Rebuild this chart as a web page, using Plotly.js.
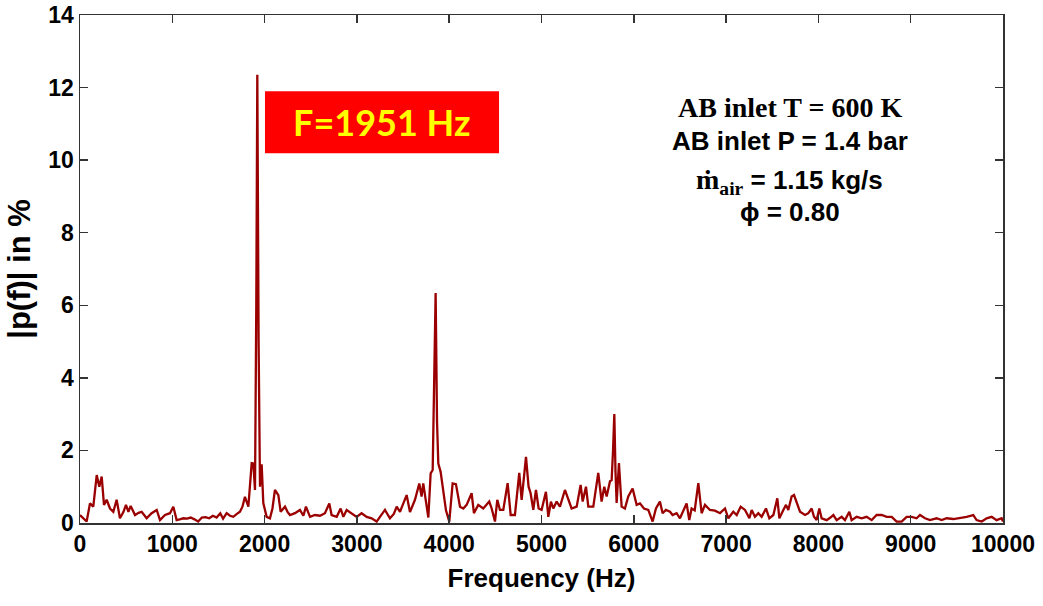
<!DOCTYPE html>
<html>
<head>
<meta charset="utf-8">
<script src="https://cdn.plot.ly/plotly-3.0.1.min.js"></script>
<style>html,body{margin:0;padding:0;background:#fff;}#chart{width:1043px;height:606px;}</style>
</head>
<body>
<div id="chart"></div>
<script>
// Frequency (Hz)
const freq = [0,40,72,108,144,181,209,235,260,289,325,361,397,433,470,498,524,549,596,635,668,722,776,831,867,921,975,1011,1047,1080,1120,1160,1200,1240,1280,1320,1360,1400,1440,1480,1520,1550,1589,1625,1661,1700,1733,1760,1787,1824,1860,1878,1896,1910,1921,1935,1950,1968,1986,2022,2058,2085,2112,2149,2174,2221,2250,2275,2329,2383,2420,2448,2492,2546,2600,2654,2701,2726,2781,2824,2853,2889,2943,2997,3051,3106,3160,3214,3250,3304,3358,3400,3431,3467,3503,3539,3575,3629,3676,3701,3719,3748,3774,3799,3821,3837,3853,3868,3882,3907,3936,3965,4001,4037,4073,4117,4153,4189,4243,4268,4315,4369,4434,4460,4496,4521,4550,4586,4633,4666,4712,4759,4785,4832,4860,4882,4911,4940,4969,5001,5048,5074,5102,5128,5164,5200,5254,5290,5326,5381,5424,5446,5482,5507,5561,5615,5651,5680,5706,5742,5760,5775,5789,5802,5814,5839,5868,5904,5940,5987,6031,6067,6110,6157,6204,6240,6283,6312,6348,6392,6420,6464,6500,6572,6601,6626,6660,6699,6735,6771,6825,6879,6934,6988,7024,7078,7115,7158,7205,7252,7277,7313,7349,7385,7432,7468,7512,7555,7577,7620,7649,7674,7710,7736,7765,7801,7855,7891,7927,7952,7981,8010,8035,8090,8130,8162,8198,8252,8288,8335,8360,8415,8469,8523,8577,8631,8685,8740,8794,8848,8902,8956,9010,9064,9101,9155,9209,9281,9335,9390,9462,9534,9606,9678,9714,9769,9823,9877,9931,9985,10000];
// |p(f)| in %
const amp = [0.22,0.12,0.04,0.54,0.45,1.32,1.0,1.28,0.5,0.64,0.4,0.31,0.64,0.13,0.3,0.5,0.31,0.47,0.22,0.28,0.31,0.13,0.27,0.36,0.08,0.22,0.27,0.45,0.08,0.1,0.13,0.12,0.15,0.1,0.04,0.15,0.16,0.13,0.2,0.15,0.27,0.12,0.27,0.2,0.17,0.25,0.31,0.45,0.72,0.45,1.65,1.64,0.91,6.0,12.35,5.0,1.0,1.62,0.55,0.17,0.13,0.4,0.91,0.77,0.31,0.45,0.3,0.22,0.27,0.36,0.2,0.45,0.17,0.22,0.2,0.27,0.54,0.22,0.17,0.4,0.17,0.36,0.27,0.17,0.27,0.17,0.13,0.04,0.17,0.36,0.13,0.25,0.45,0.31,0.54,0.77,0.3,0.64,1.09,0.73,1.09,0.64,0.15,1.37,1.46,3.9,6.34,2.8,1.64,1.41,0.82,0.35,0.04,1.09,1.07,0.45,0.4,0.5,0.82,0.27,0.5,0.4,0.59,0.4,0.04,0.64,0.36,0.36,1.1,0.22,0.22,1.38,0.64,1.82,1.0,0.82,0.36,0.91,0.4,0.36,0.86,0.17,0.59,0.4,0.59,0.45,0.91,0.68,0.4,0.45,1.05,0.59,1.0,0.45,0.45,1.38,0.59,1.0,0.73,1.15,1.18,2.0,3.0,1.4,0.55,1.65,0.45,0.4,0.73,0.95,0.5,0.54,0.4,0.36,0.04,0.4,0.59,0.27,0.36,0.31,0.22,0.27,0.13,0.54,0.08,0.4,0.35,1.1,0.27,0.5,0.36,0.34,0.27,0.4,0.13,0.31,0.22,0.45,0.36,0.13,0.36,0.17,0.27,0.17,0.4,0.13,0.22,0.68,0.13,0.36,0.5,0.36,0.73,0.77,0.54,0.31,0.22,0.27,0.4,0.17,0.08,0.4,0.13,0.08,0.15,0.22,0.08,0.17,0.08,0.31,0.08,0.17,0.13,0.17,0.08,0.22,0.22,0.17,0.17,0.04,0.04,0.17,0.17,0.13,0.22,0.13,0.08,0.13,0.08,0.13,0.11,0.13,0.17,0.22,0.08,0.04,0.13,0.17,0.08,0.13,0.04];

const xTicks = [0,1000,2000,3000,4000,5000,6000,7000,8000,9000,10000];
const yTicks = [0,2,4,6,8,10,12,14];
const peakLabel = 'F=1951 Hz';
const serif = "font-family:'Liberation Serif',serif;font-size:28px";
const infoLines = [
  '<span style="' + serif + '">AB inlet T = 600 K</span>',
  'AB inlet P = 1.4 bar',
  '<span style="' + serif + '">ṁ<sub>air</sub></span> = 1.15 kg/s',
  'ϕ = 0.80'
];
const infoY = [0.817, 0.752, 0.672, 0.612];

const font = 'Liberation Sans, Arial, sans-serif';
const axisCommon = {
  showline: true, mirror: 'ticks', linecolor: '#333', linewidth: 1.5,
  ticks: 'inside', ticklen: 8, tickwidth: 1.5, tickcolor: '#333',
  showgrid: false, zeroline: false, tickmode: 'array',
  tickfont: {family: font, size: 23, color: '#000', weight: 'bold'}
};

const data = [{
  x: freq, y: amp, type: 'scatter', mode: 'lines',
  line: {color: '#9a0000', width: 2.3}, hoverinfo: 'skip'
}];

const annotations = [{
  xref: 'paper', yref: 'paper', x: 0.327, y: 0.789,
  xanchor: 'center', yanchor: 'middle',
  text: peakLabel, showarrow: false,
  font: {family: 'Lato, Open Sans, sans-serif', size: 36, color: '#ffff00', weight: 'bold'}
}];
infoLines.forEach((t, i) => annotations.push({
  xref: 'paper', yref: 'paper', x: 0.769, y: infoY[i], text: t, showarrow: false,
  xanchor: 'center', yanchor: 'middle',
  font: {family: font, size: 26, color: '#000', weight: 'bold'}
}));

const layout = {
  width: 1043, height: 606,
  margin: {l: 80, r: 40, t: 15, b: 83},
  paper_bgcolor: '#fff', plot_bgcolor: '#fff',
  showlegend: false,
  xaxis: Object.assign({}, axisCommon, {
    range: [0, 10000], tickvals: xTicks, ticktext: xTicks.map(String),
    title: {text: 'Frequency (Hz)', font: {family: font, size: 26, color: '#000', weight: 'bold'}, standoff: 12}
  }),
  yaxis: Object.assign({}, axisCommon, {
    range: [0, 14], tickvals: yTicks, ticktext: yTicks.map(String),
    title: {text: '|p(f)| in %', font: {family: font, size: 31, color: '#000', weight: 'bold'}, standoff: 8}
  }),
  shapes: [{
    type: 'rect', xref: 'paper', yref: 'paper',
    x0: 0.2004, x1: 0.454, y0: 0.728, y1: 0.850,
    fillcolor: '#ff0000', line: {width: 0}, layer: 'above'
  }],
  annotations: annotations
};

Plotly.newPlot('chart', data, layout, {displayModeBar: false, staticPlot: true});
</script>
</body>
</html>
